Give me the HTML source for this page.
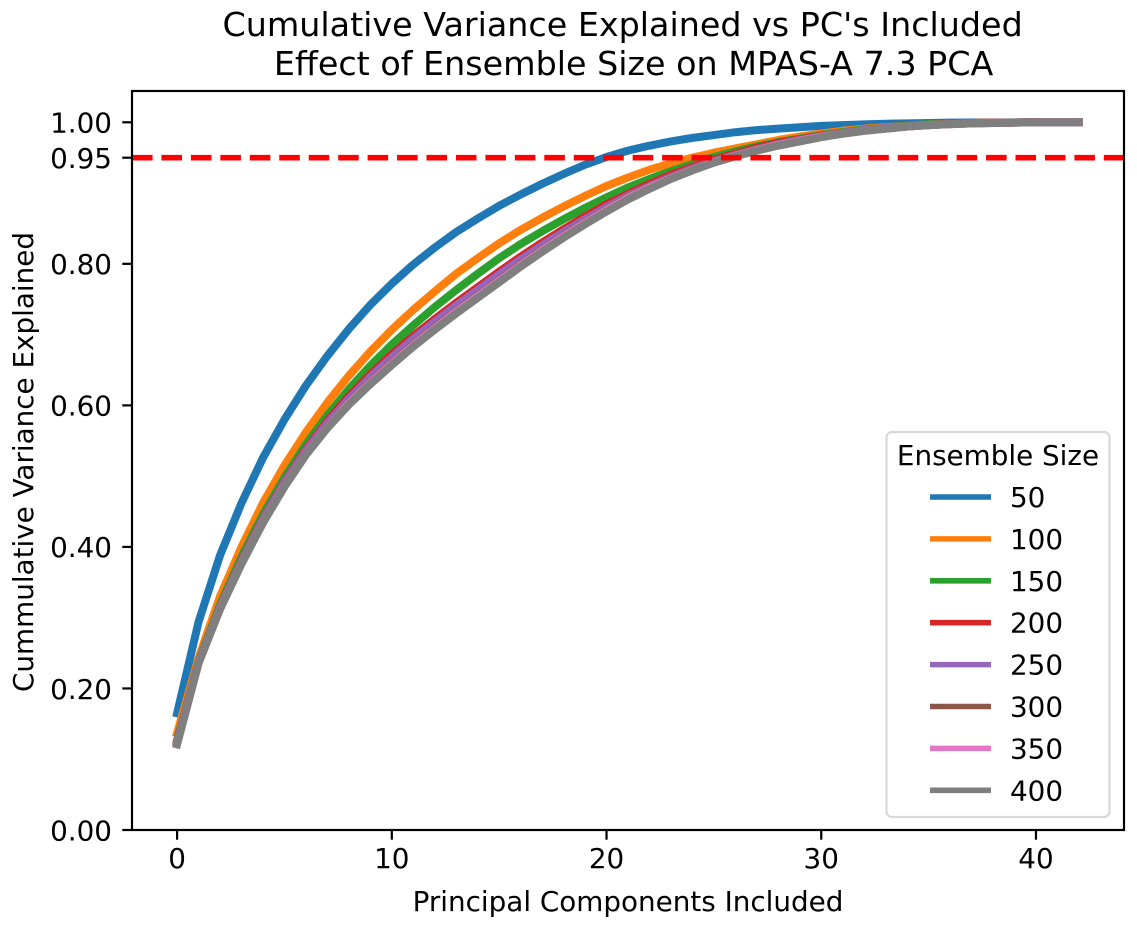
<!DOCTYPE html>
<html lang="en">
<head>
<meta charset="utf-8">
<title>Cumulative Variance Explained vs PC's Included</title>
<style>
html,body{margin:0;padding:0;background:#fff;width:1137px;height:929px;overflow:hidden}
svg{display:block}
text{font-family:"DejaVu Sans","Liberation Sans",sans-serif;fill:#000}
</style>
</head>
<body>
<svg id="chart" xmlns="http://www.w3.org/2000/svg" width="1137" height="929" viewBox="0 0 1137 929">
  <defs><clipPath id="plot-clip"><rect x="132" y="91" width="992" height="739"/></clipPath></defs>
  <rect x="0" y="0" width="1137" height="929" fill="#fff"/>
  <text x="622.6" y="36" font-size="33.33" text-anchor="middle">Cumulative Variance Explained vs PC's Included</text>
  <text x="633.6" y="75" font-size="33.33" text-anchor="middle">Effect of Ensemble Size on MPAS-A 7.3 PCA</text>
  <text x="628" y="911" font-size="27.8" text-anchor="middle">Principal Components Included</text>
  <text transform="translate(33,462) rotate(-90)" font-size="27.8" text-anchor="middle">Cummulative Variance Explained</text>
  <g id="series-layer" clip-path="url(#plot-clip)"></g>
  <g id="axes-layer"></g>
  <g id="legend-layer"></g>
</svg>
<script>
const xTickValues = [0, 10, 20, 30, 40];
const yTickValues = [0, 0.2, 0.4, 0.6, 0.8, 0.95, 1];
const yTickLabels = ["0.00", "0.20", "0.40", "0.60", "0.80", "0.95", "1.00"];
const thresholdValue = 0.95;
const ensembleSizes = ["50", "100", "150", "200", "250", "300", "350", "400"];
const seriesColors = ["#1f77b4", "#ff7f0e", "#2ca02c", "#d62728", "#9467bd", "#8c564b", "#e377c2", "#7f7f7f"];

const values50 = [.165,.294,.388,.462,.526,.58,.628,.67,.708,.742,.772,.799,.823,.845,.864,.882,.898,.913,.927,.94,.951,.96,.967,.973,.978,.982,.986,.989,.991,.993,.995,.996,.997,.998,.9985,.999,.9995,.9997,.9998,.9999,1,1,1];
const values100 = [.137,.243,.33,.40,.462,.515,.562,.604,.642,.676,.707,.735,.761,.786,.808,.829,.848,.865,.881,.896,.91,.922,.933,.942,.95,.957,.963,.969,.975,.98,.984,.988,.991,.993,.995,.997,.998,.999,.9995,.9998,1,1,1];
const values150 = [.127,.238,.318,.386,.446,.498,.545,.586,.623,.656,.686,.713,.739,.763,.786,.808,.828,.846,.863,.879,.894,.908,.92,.931,.941,.951,.959,.966,.972,.977,.982,.986,.99,.992,.995,.997,.998,.999,.9995,.9998,1,1,1];
const values200 = [.125,.237,.315,.381,.44,.492,.538,.578,.613,.644,.672,.698,.722,.745,.767,.789,.81,.83,.849,.867,.884,.899,.913,.926,.937,.947,.956,.964,.971,.976,.981,.985,.989,.992,.994,.996,.998,.999,.9995,.9997,1,1,1];
const values250 = [.124,.237,.314,.38,.439,.491,.536,.575,.609,.64,.668,.694,.718,.741,.763,.785,.806,.826,.845,.863,.88,.896,.91,.923,.935,.945,.954,.962,.969,.975,.98,.985,.989,.992,.994,.996,.9975,.9985,.9992,.9996,1,1,1];
const values300 = [.123,.236,.313,.378,.436,.487,.532,.57,.604,.633,.66,.686,.71,.733,.755,.777,.799,.82,.84,.859,.877,.894,.909,.922,.934,.945,.954,.962,.968,.974,.98,.984,.988,.991,.994,.996,.9975,.9985,.9991,.9995,1,1,1];
const values350 = [.122,.236,.313,.377,.435,.486,.531,.569,.603,.632,.659,.685,.709,.732,.754,.776,.798,.819,.839,.858,.876,.893,.908,.921,.933,.944,.953,.961,.968,.974,.98,.984,.988,.991,.994,.996,.9975,.9985,.9991,.9995,1,1,1];
const values400 = [.121,.236,.312,.376,.434,.485,.53,.568,.601,.63,.657,.683,.707,.73,.752,.774,.796,.817,.837,.856,.874,.891,.906,.92,.932,.943,.952,.96,.967,.973,.979,.984,.988,.991,.994,.996,.9975,.9985,.999,.9995,1,1,1];
const seriesValues = [values50, values100, values150, values200, values250, values300, values350, values400];

const NS = "http://www.w3.org/2000/svg";
const plot = { left: 132, right: 1124, top: 91, bottom: 830 };
const xMin = -2.1, xMax = 44.1;
const yMin = 0, yPxPerUnit = 707.7;
const xScale = function (v) { return plot.left + (v - xMin) / (xMax - xMin) * (plot.right - plot.left); };
const yScale = function (v) { return plot.bottom - (v - yMin) * yPxPerUnit; };
const make = function (tag, parent) { const el = document.createElementNS(NS, tag); parent.appendChild(el); return el; };

const seriesLayer = document.getElementById("series-layer");
const axesLayer = document.getElementById("axes-layer");
const legendLayer = document.getElementById("legend-layer");

seriesValues.forEach(function (vals, s) {
  const line = make("path", seriesLayer);
  
  
  line.setAttribute("d", vals.map(function (v, i) { return (i ? "L" : "M") + xScale(i).toFixed(2) + " " + yScale(v).toFixed(2); }).join(""));
  line.setAttribute("fill", "none");
  line.setAttribute("stroke", seriesColors[s]);
  line.setAttribute("stroke-width", "8");
  line.setAttribute("stroke-linejoin", "round");
  line.setAttribute("stroke-linecap", "square");
});

const threshold = make("line", seriesLayer);


threshold.setAttribute("x1", plot.left);
threshold.setAttribute("x2", plot.right);
threshold.setAttribute("y1", yScale(thresholdValue));
threshold.setAttribute("y2", yScale(thresholdValue));
threshold.setAttribute("stroke", "#ff0000");
threshold.setAttribute("stroke-width", "5.56");
threshold.setAttribute("stroke-dasharray", "20.56 8.89");

xTickValues.forEach(function (v) {
  const x = xScale(v);
  const tick = make("line", axesLayer);
  
  
  tick.setAttribute("x1", x); tick.setAttribute("x2", x);
  tick.setAttribute("y1", plot.bottom); tick.setAttribute("y2", plot.bottom + 9.7);
  tick.setAttribute("stroke", "#000"); tick.setAttribute("stroke-width", "2.2");
  const label = make("text", axesLayer);
  
  
  label.setAttribute("x", x); label.setAttribute("y", 868);
  label.setAttribute("font-size", "27.8"); label.setAttribute("text-anchor", "middle");
  label.textContent = String(v);
});

yTickValues.forEach(function (v, i) {
  const y = yScale(v);
  const tick = make("line", axesLayer);
  
  
  tick.setAttribute("x1", plot.left - 9.7); tick.setAttribute("x2", plot.left);
  tick.setAttribute("y1", y); tick.setAttribute("y2", y);
  tick.setAttribute("stroke", "#000"); tick.setAttribute("stroke-width", "2.2");
  const label = make("text", axesLayer);
  
  
  label.setAttribute("x", 112); label.setAttribute("y", y + 10.3);
  label.setAttribute("font-size", "27.8"); label.setAttribute("text-anchor", "end");
  label.textContent = yTickLabels[i];
});

const frame = make("rect", axesLayer);


frame.setAttribute("x", plot.left);
frame.setAttribute("y", plot.top);
frame.setAttribute("width", plot.right - plot.left);
frame.setAttribute("height", plot.bottom - plot.top);
frame.setAttribute("fill", "none");
frame.setAttribute("stroke", "#000");
frame.setAttribute("stroke-width", "2.2");

const legendBox = make("rect", legendLayer);


legendBox.setAttribute("x", 886.5);
legendBox.setAttribute("y", 432);
legendBox.setAttribute("width", 223);
legendBox.setAttribute("height", 385);
legendBox.setAttribute("rx", 5.5);
legendBox.setAttribute("fill", "#fff");
legendBox.setAttribute("fill-opacity", "0.8");
legendBox.setAttribute("stroke", "#d8d8d8");
legendBox.setAttribute("stroke-width", "2.2");

const legendTitle = make("text", legendLayer);


legendTitle.setAttribute("x", 998);
legendTitle.setAttribute("y", 465);
legendTitle.setAttribute("font-size", "27.8");
legendTitle.setAttribute("text-anchor", "middle");
legendTitle.textContent = "Ensemble Size";

ensembleSizes.forEach(function (name, i) {
  const y = 497 + i * 41.9;
  const swatch = make("line", legendLayer);
  
  
  swatch.setAttribute("x1", 932.8); swatch.setAttribute("x2", 988.2);
  swatch.setAttribute("y1", y); swatch.setAttribute("y2", y);
  swatch.setAttribute("stroke", seriesColors[i]);
  swatch.setAttribute("stroke-width", "5.56");
  swatch.setAttribute("stroke-linecap", "square");
  const label = make("text", legendLayer);
  
  
  label.setAttribute("x", 1010);
  label.setAttribute("y", y + 10);
  label.setAttribute("font-size", "27.8");
  label.textContent = name;
});
</script>
</body>
</html>
